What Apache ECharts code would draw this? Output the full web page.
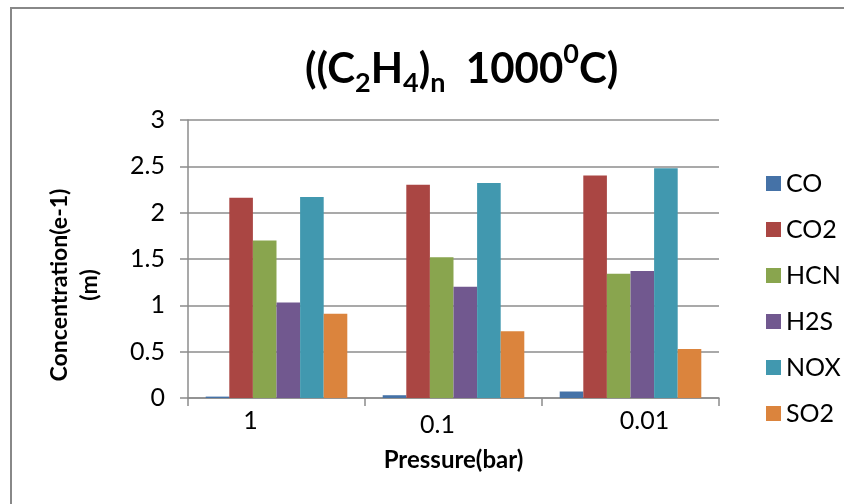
<!DOCTYPE html>
<html>
<head>
<meta charset="utf-8">
<script src="https://cdn.jsdelivr.net/npm/echarts@6/dist/echarts.min.js"></script>
<style>
  html, body { margin: 0; padding: 0; background: #fff; }
  #chart { width: 844px; height: 504px; }
</style>
</head>
<body>
<div id="chart"></div>
<script>
// datos
const presiones = ["1", "0.1", "0.01"];
const gases = ["CO", "CO2", "HCN", "H2S", "NOX", "SO2"];
const valCO = [0.015, 0.03, 0.07];
const valCO2 = [2.16, 2.30, 2.40];
const valHCN = [1.70, 1.52, 1.34];
const valH2S = [1.03, 1.20, 1.37];
const valNOX = [2.17, 2.32, 2.48];
const valSO2 = [0.91, 0.72, 0.53];

const colores = ['#4572A7', '#AA4643', '#89A54E', '#71588F', '#4198AF', '#DB843D'];
const gris = '#8c8c8c';
const fuente = 'Lato, "Open Sans", sans-serif';

const chart = echarts.init(document.getElementById("chart"));

const series = [valCO, valCO2, valHCN, valH2S, valNOX, valSO2].map((vals, i) => ({
    name: gases[i],
    type: 'bar',
    data: vals,
    barGap: '0%',
    barCategoryGap: '20%',
    itemStyle: { color: colores[i] }
}));

const option = {
    animation: false,
    backgroundColor: '#fff',
    color: colores,
    textStyle: { fontFamily: fuente, color: '#000' },
    graphic: [{
        type: 'rect',
        shape: { x: 11, y: 8, width: 900, height: 600 },
        style: { fill: 'none', stroke: '#888', lineWidth: 2 },
        silent: true
    }],
    title: {
        left: 300,
        top: 36,
        text: '{m|((C}{s|2}{m|H}{s|4}{m|)}{s|n}{m|  1000}{p|0}{m|C)}',
        textStyle: {
            rich: {
                m: { fontSize: 42, fontWeight: 'bold', lineHeight: 56, fontFamily: fuente, color: '#000' },
                s: { fontSize: 27, fontWeight: 'bold', lineHeight: 27, verticalAlign: 'bottom', fontFamily: fuente, color: '#000' },
                p: { fontSize: 27, fontWeight: 'bold', lineHeight: 46, verticalAlign: 'top', fontFamily: fuente, color: '#000' }
            }
        }
    },
    legend: {
        orient: 'vertical',
        left: 761,
        top: 166,
        itemWidth: 15,
        itemHeight: 15,
        itemGap: 21,
        icon: 'rect',
        data: gases,
        textStyle: { fontSize: 25, lineHeight: 25, fontFamily: fuente, color: '#000' }
    },
    grid: { left: 188, right: 125, top: 120, bottom: 106 },
    xAxis: {
        type: 'category',
        data: presiones,
        name: 'Pressure(bar)',
        nameLocation: 'middle',
        nameGap: 50,
        nameTextStyle: { fontSize: 24, fontWeight: 'bold', fontFamily: fuente, color: '#000' },
        axisLine: { lineStyle: { color: gris, width: 1.5 } },
        axisTick: { show: true, length: 8, lineStyle: { color: gris, width: 1.5 } },
        axisLabel: {
            margin: 10,
            fontSize: 25,
            color: '#000',
            formatter: function (v, i) { return '{l' + i + '|' + v + '}'; },
            rich: {
                l0: { fontSize: 25, padding: [0, 52, 0, 0] },
                l1: { fontSize: 25, padding: [4, 32, 0, 0] },
                l2: { fontSize: 25, padding: [0, 0, 6, 28] }
            }
        }
    },
    yAxis: {
        type: 'value',
        min: 0,
        max: 3,
        interval: 0.5,
        name: 'Concentration(e-1)\n(m)',
        nameLocation: 'middle',
        nameGap: 83,
        nameTextStyle: { fontSize: 23, fontWeight: 'bold', lineHeight: 30, align: 'center', fontFamily: fuente, color: '#000', padding: [0, 52, 0, 0] },
        axisLine: { show: true, lineStyle: { color: gris, width: 1.5 } },
        axisTick: { show: true, length: 8, lineStyle: { color: gris, width: 1.5 } },
        axisLabel: { margin: 23, fontSize: 25, color: '#000' },
        splitLine: { lineStyle: { color: gris, width: 1.5 } }
    },
    series: series
};

chart.setOption(option);
chart.resize();
</script>
</body>
</html>
